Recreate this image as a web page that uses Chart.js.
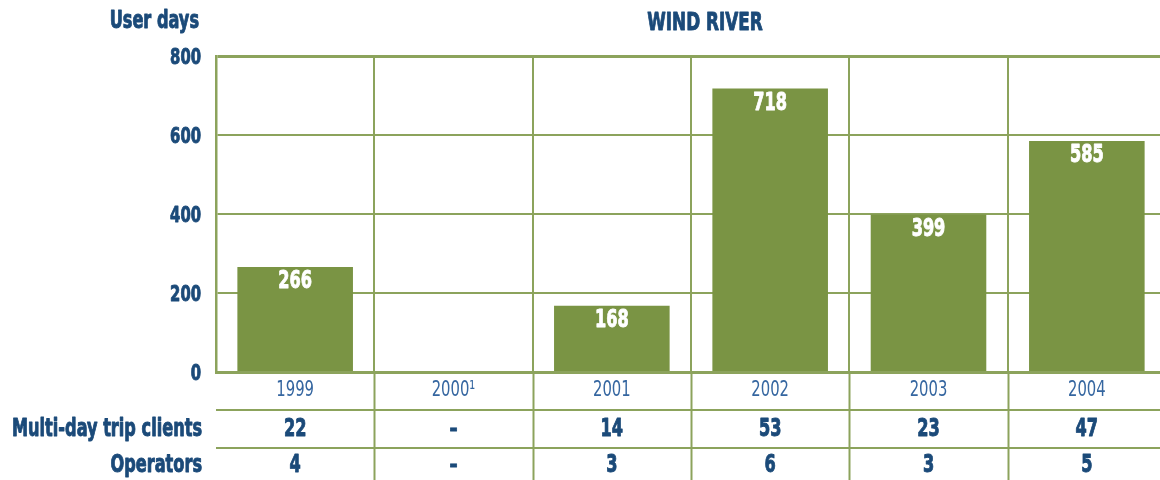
<!DOCTYPE html>
<html>
<head>
<meta charset="utf-8">
<script src="https://cdn.jsdelivr.net/npm/chart.js@4/dist/chart.umd.min.js"></script>
<style>
  html, body { margin: 0; padding: 0; background: #fff; overflow: hidden; }
  #wrap { width: 1166px; height: 480px; }
</style>
</head>
<body>
<div id="wrap"><canvas id="windRiverChart" width="1166" height="480"></canvas></div>
<script>
// Wind River user days by year, plus the table rows under the axis
const years = ['1999', '2000\u00b9', '2001', '2002', '2003', '2004'];
const userDays = [266, null, 168, 718, 399, 585];
const tripClients = ['22', '\u2013', '14', '53', '23', '47'];
const operators = ['4', '\u2013', '3', '6', '3', '5'];
const tableRows = ['Multi-day trip clients', 'Operators'];

const FONT = "'Liberation Sans Narrow', 'DejaVu Sans Condensed', 'Roboto', sans-serif";
const BLUE = '#1b4a79';
const LIGHT_BLUE = '#3566a0';
const GREEN = '#7a9444';
const GRID = '#8ca35c';
const BOLD = 'bold 24px ' + FONT;

// squeeze text horizontally around its anchor point (bold gets a thin outline)
let squeeze = 0.7;
function drawNarrow(ctx, text, x, y, align, heavy) {
    ctx.save();
    ctx.translate(x, y);
    ctx.scale(squeeze, 1);
    ctx.textAlign = align;
    ctx.fillText(text, 0, 0);
    if (heavy) {
        ctx.strokeStyle = ctx.fillStyle;
        ctx.lineWidth = 0.9;
        ctx.lineJoin = 'round';
        ctx.strokeText(text, 0, 0);
    }
    ctx.restore();
}

// values written inside the bars
const barLabels = {
    id: 'barLabels',
    afterDatasetsDraw(chart) {
        const ctx = chart.ctx;
        const meta = chart.getDatasetMeta(0);
        ctx.save();
        ctx.font = BOLD;
        squeeze = Math.min(1, 190 / ctx.measureText(tableRows[0]).width);
        ctx.fillStyle = '#ffffff';
        ctx.textBaseline = 'middle';
        meta.data.forEach((bar, i) => {
            if (userDays[i] == null) return;
            drawNarrow(ctx, String(userDays[i]), bar.x, bar.y + 15, 'center', true);
        });
        ctx.restore();
    }
};

// axis labels, titles, and the little table below the x axis
const tableAndTitles = {
    id: 'tableAndTitles',
    afterDraw(chart) {
        const ctx = chart.ctx;
        const area = chart.chartArea;
        const x = chart.scales.x;
        const y = chart.scales.y;
        const w = (area.right - area.left) / years.length;
        const H = chart.height;

        ctx.save();
        // vertical separators carried down through the table
        ctx.strokeStyle = GRID;
        ctx.lineWidth = 2;
        for (let i = 1; i <= years.length; i++) {
            const px = Math.round(area.left + i * w) + 0.5;
            ctx.beginPath();
            ctx.moveTo(px, area.bottom);
            ctx.lineTo(px, H);
            ctx.stroke();
        }
        [410, 448].forEach(py => {
            ctx.beginPath();
            ctx.moveTo(area.left, py);
            ctx.lineTo(area.right, py);
            ctx.stroke();
        });

        ctx.textBaseline = 'middle';

        // y tick labels
        ctx.fillStyle = BLUE;
        ctx.font = 'bold 22px ' + FONT;
        y.ticks.forEach(t => {
            drawNarrow(ctx, String(t.value), 201, y.getPixelForValue(t.value) + 2, 'right', true);
        });

        // year labels under the axis
        ctx.fillStyle = LIGHT_BLUE;
        ctx.font = '22px ' + FONT;
        x.ticks.forEach((t, i) => {
            drawNarrow(ctx, x.getLabelForValue(t.value), x.getPixelForValue(i), 390, 'center', false);
        });

        ctx.fillStyle = BLUE;
        ctx.font = BOLD;
        // row labels and titles
        drawNarrow(ctx, tableRows[0], 202, 430, 'right', true);
        drawNarrow(ctx, tableRows[1], 202, 466, 'right', true);
        drawNarrow(ctx, 'User days', 199, 22, 'right', true);
        ctx.font = 'bold 25px ' + FONT;
        drawNarrow(ctx, 'WIND RIVER', 705, 23, 'center', true);

        // row values
        ctx.font = BOLD;
        years.forEach((yr, i) => {
            const cx = x.getPixelForValue(i);
            drawNarrow(ctx, tripClients[i], cx, 430, 'center', true);
            drawNarrow(ctx, operators[i], cx, 466, 'center', true);
        });
        ctx.restore();
    }
};

new Chart(document.getElementById('windRiverChart').getContext('2d'), {
    type: 'bar',
    data: {
        labels: years,
        datasets: [{
            label: 'User days',
            data: userDays,
            backgroundColor: GREEN,
            barPercentage: 0.73,
            categoryPercentage: 1
        }]
    },
    options: {
        responsive: false,
        animation: false,
        layout: { padding: { top: 56, left: 0, right: 0, bottom: 0 } },
        plugins: {
            legend: { display: false },
            tooltip: { enabled: false }
        },
        scales: {
            x: {
                afterFit: scale => { scale.height = 108; },
                grid: { color: GRID, lineWidth: 2, drawTicks: false, offset: true },
                border: { color: GRID, width: 3 },
                ticks: { display: false }
            },
            y: {
                min: 0,
                max: 800,
                afterFit: scale => { scale.width = 216; },
                grid: {
                    color: GRID,
                    drawTicks: false,
                    lineWidth: c => (c.tick && c.tick.value === 800 ? 3 : 2)
                },
                border: { color: GRID, width: 2.5 },
                ticks: { stepSize: 200, display: false }
            }
        }
    },
    plugins: [barLabels, tableAndTitles]
});
</script>
</body>
</html>
